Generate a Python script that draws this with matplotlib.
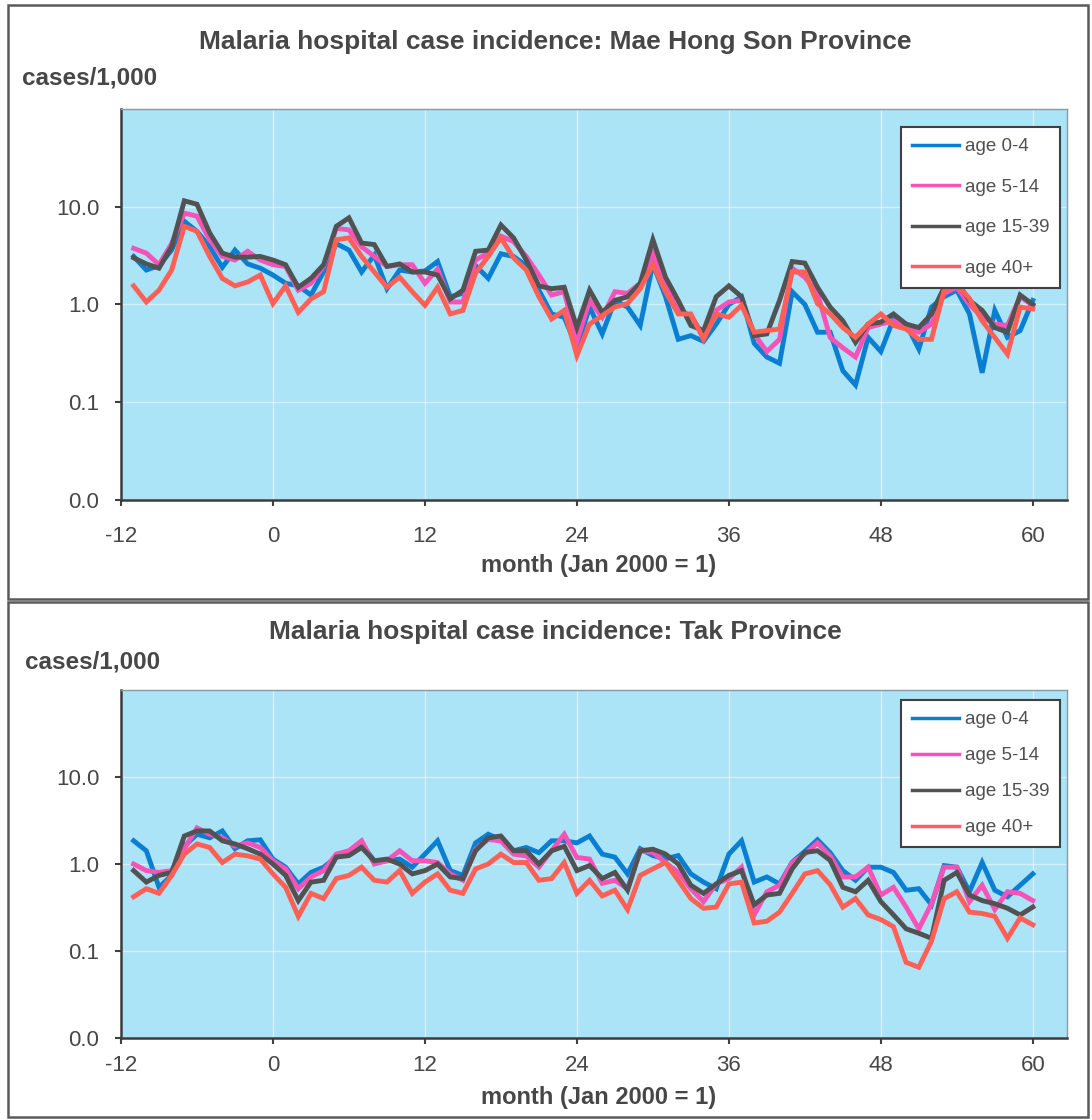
import matplotlib.pyplot as plt
from matplotlib.patches import Rectangle

plt.rcParams['font.family'] = ['Liberation Sans', 'DejaVu Sans']
plt.rcParams['axes.unicode_minus'] = False

# Months (Jan 2000 = 1)
months = list(range(-11, 61))

series_labels = ['age 0-4', 'age 5-14', 'age 15-39', 'age 40+']
series_colors = ['#0A7ED0', '#F752B6', '#525252', '#FF5F55']

# Mae Hong Son, cases/1,000
mhs_0_4 = [3.1, 2.25, 2.5, 3.6, 7.1, 5.6, 3.9, 2.4, 3.6, 2.6, 2.35, 2.0,
           1.65, 1.55, 1.25, 2.15, 4.2, 3.6, 2.15, 3.2, 1.45, 2.25, 2.15, 2.2,
           2.75, 1.2, 1.3, 2.5, 1.85, 3.3, 3.1, 2.5, 1.4, 0.8, 0.74, 0.36,
           0.94, 0.5, 1.1, 0.94, 0.61, 2.6, 1.2, 0.44, 0.48, 0.42, 0.63, 1.0,
           1.2, 0.4, 0.29, 0.25, 1.35, 1.0, 0.52, 0.52, 0.21, 0.15, 0.46, 0.33,
           0.71, 0.63, 0.35, 0.94, 1.2, 1.4, 0.8, 0.2, 0.87, 0.46, 0.54, 1.1]
mhs_5_14 = [3.75, 3.35, 2.55, 4.2, 8.6, 8.0, 4.6, 3.1, 2.85, 3.5, 2.85, 2.55,
            2.45, 1.4, 1.65, 2.45, 6.0, 5.8, 3.9, 3.1, 2.45, 2.55, 2.55, 1.65,
            2.3, 1.06, 1.06, 2.85, 3.35, 5.0, 4.4, 3.1, 2.0, 1.25, 1.35, 0.42,
            1.1, 0.74, 1.35, 1.3, 1.65, 3.35, 1.7, 0.87, 0.77, 0.48, 0.87, 1.06,
            1.1, 0.5, 0.33, 0.44, 2.35, 1.9, 1.3, 0.46, 0.36, 0.29, 0.58, 0.63,
            0.68, 0.58, 0.52, 0.63, 1.3, 1.5, 1.0, 0.74, 0.63, 0.61, 1.2, 0.98]
mhs_15_39 = [3.0, 2.6, 2.35, 3.9, 11.5, 10.6, 5.4, 3.35, 3.05, 3.05, 3.1, 2.85,
             2.55, 1.5, 1.85, 2.55, 6.3, 7.7, 4.25, 4.1, 2.45, 2.6, 2.15, 2.15,
             2.0, 1.14, 1.4, 3.5, 3.6, 6.5, 4.8, 2.85, 1.55, 1.45, 1.5, 0.58,
             1.4, 0.83, 1.1, 1.2, 1.65, 4.6, 1.9, 1.1, 0.61, 0.54, 1.2, 1.55,
             1.2, 0.48, 0.5, 1.1, 2.75, 2.65, 1.5, 0.94, 0.68, 0.41, 0.63, 0.66,
             0.8, 0.63, 0.58, 0.8, 1.5, 1.7, 1.1, 0.87, 0.58, 0.52, 1.25, 1.0]
mhs_40 = [1.55, 1.06, 1.4, 2.25, 6.3, 5.6, 3.1, 1.85, 1.55, 1.7, 2.0, 1.02,
          1.55, 0.83, 1.14, 1.35, 4.6, 4.8, 3.1, 2.15, 1.5, 1.9, 1.35, 0.98,
          1.5, 0.8, 0.87, 2.1, 3.1, 4.8, 3.0, 2.25, 1.2, 0.71, 0.87, 0.3,
          0.63, 0.77, 0.94, 1.02, 1.45, 2.55, 1.35, 0.8, 0.8, 0.44, 0.8, 0.74,
          0.98, 0.52, 0.54, 0.56, 2.15, 2.15, 1.02, 0.8, 0.58, 0.46, 0.63, 0.8,
          0.61, 0.56, 0.44, 0.44, 1.4, 1.6, 1.15, 0.68, 0.46, 0.31, 0.94, 0.9]

# Tak, cases/1,000
tak_0_4 = [1.85, 1.42, 0.54, 0.74, 1.6, 2.2, 2.0, 2.4, 1.5, 1.85, 1.9, 1.14,
           0.92, 0.59, 0.8, 0.92, 1.2, 1.3, 1.7, 1.09, 1.09, 1.14, 0.92, 1.3,
           1.85, 0.84, 0.74, 1.75, 2.2, 1.9, 1.42, 1.55, 1.35, 1.85, 1.85, 1.75,
           2.1, 1.3, 1.2, 0.77, 1.5, 1.25, 1.15, 1.25, 0.77, 0.62, 0.52, 1.3,
           1.85, 0.62, 0.71, 0.59, 1.05, 1.4, 1.9, 1.35, 0.84, 0.65, 0.92, 0.92,
           0.8, 0.5, 0.52, 0.34, 0.96, 0.92, 0.48, 1.04, 0.5, 0.42, 0.57, 0.77]
tak_5_14 = [1.0, 0.84, 0.8, 0.84, 1.5, 2.6, 2.2, 2.0, 1.6, 1.75, 1.55, 1.09,
            0.88, 0.52, 0.71, 0.84, 1.3, 1.42, 1.85, 1.0, 1.09, 1.42, 1.09, 1.09,
            1.04, 0.77, 0.65, 1.48, 1.92, 1.84, 1.3, 1.24, 0.92, 1.42, 2.2, 1.19,
            1.14, 0.6, 0.65, 0.52, 1.42, 1.36, 1.04, 0.8, 0.52, 0.37, 0.59, 0.68,
            0.92, 0.26, 0.48, 0.57, 1.04, 1.3, 1.75, 1.24, 0.71, 0.71, 0.92, 0.44,
            0.54, 0.32, 0.18, 0.35, 0.92, 0.92, 0.37, 0.57, 0.3, 0.48, 0.46, 0.38]
tak_15_39 = [0.84, 0.62, 0.74, 0.8, 2.1, 2.4, 2.4, 1.85, 1.7, 1.5, 1.3, 1.0,
             0.74, 0.38, 0.62, 0.65, 1.2, 1.25, 1.55, 1.09, 1.14, 1.0, 0.77, 0.84,
             1.0, 0.71, 0.68, 1.42, 2.0, 2.1, 1.42, 1.42, 1.0, 1.42, 1.6, 0.84,
             0.96, 0.68, 0.8, 0.5, 1.42, 1.48, 1.3, 1.0, 0.57, 0.46, 0.59, 0.74,
             0.84, 0.34, 0.44, 0.46, 0.88, 1.36, 1.42, 1.1, 0.54, 0.48, 0.65, 0.37,
             0.26, 0.18, 0.16, 0.14, 0.65, 0.8, 0.44, 0.38, 0.35, 0.31, 0.26, 0.32]
tak_40 = [0.42, 0.52, 0.46, 0.74, 1.3, 1.7, 1.55, 1.04, 1.3, 1.24, 1.14, 0.77,
          0.54, 0.25, 0.46, 0.4, 0.68, 0.74, 0.92, 0.65, 0.62, 0.84, 0.46, 0.62,
          0.77, 0.5, 0.46, 0.88, 1.0, 1.3, 1.04, 1.04, 0.65, 0.68, 1.04, 0.46,
          0.65, 0.43, 0.5, 0.3, 0.74, 0.88, 1.04, 0.65, 0.4, 0.31, 0.32, 0.59,
          0.62, 0.21, 0.22, 0.28, 0.46, 0.77, 0.84, 0.58, 0.32, 0.4, 0.26, 0.23,
          0.19, 0.074, 0.065, 0.13, 0.4, 0.48, 0.28, 0.27, 0.25, 0.14, 0.24, 0.2]

x_ticks = [-12, 0, 12, 24, 36, 48, 60]
y_ticks = [0.01, 0.1, 1, 10]
y_tick_labels = ['0.0', '0.1', '1.0', '10.0']

text_color = '#474747'
plot_bg = '#ABE3F7'


def draw_panel(ax, series, xpad, legend_y, legend_spacing):
    ax.set_facecolor(plot_bg)
    for values, label, color in zip(series, series_labels, series_colors):
        ax.plot(months, values, color=color, lw=3.5, label=label,
                solid_joinstyle='miter')
    ax.set_yscale('log')
    ax.set_ylim(0.01, 100)
    ax.set_xlim(-12, 62.7)
    ax.set_yticks(y_ticks)
    ax.set_yticklabels(y_tick_labels)
    ax.minorticks_off()
    ax.set_xticks(x_ticks)
    ax.grid(True, color='white', alpha=0.5, lw=1)
    ax.set_axisbelow(True)
    ax.tick_params(axis='y', direction='out', length=4.5, width=1.5,
                   color='#404040', pad=11, labelsize=16, labelcolor=text_color)
    ax.tick_params(axis='x', direction='out', length=4.5, width=1.5,
                   color='#404040', pad=xpad, labelsize=16, labelcolor=text_color)
    for side in ['left', 'bottom']:
        ax.spines[side].set_color('#3c3c3c')
        ax.spines[side].set_linewidth(1.8)
    for side in ['top', 'right']:
        ax.spines[side].set_color('#8a9aa0')
        ax.spines[side].set_linewidth(1)
    leg = ax.legend(loc='upper right', bbox_to_anchor=(0.993, legend_y),
                    borderaxespad=0, fontsize=13.5, handlelength=2.5,
                    handletextpad=0.3, labelspacing=legend_spacing, borderpad=0.6,
                    fancybox=False, framealpha=1, edgecolor='#404040')
    leg.get_frame().set_linewidth(1.5)
    for text in leg.get_texts():
        text.set_color('#505050')
    for line in leg.get_lines():
        line.set_linewidth(2.5)


fig = plt.figure(figsize=(10.92, 11.2), dpi=100)

# Outer frames round each chart
fig.add_artist(Rectangle((0.0073, 0.4652), 0.989, 0.5304, transform=fig.transFigure,
                         fill=False, edgecolor='#5a5a5a', lw=1.8))
fig.add_artist(Rectangle((0.0073, 0.0027), 0.989, 0.4598, transform=fig.transFigure,
                         fill=False, edgecolor='#5a5a5a', lw=1.8))

# Mae Hong Son
ax1 = fig.add_axes([0.1108, 0.5536, 0.8663, 0.3491])
draw_panel(ax1, [mhs_0_4, mhs_5_14, mhs_15_39, mhs_40], 14, 0.954, 1.25)
fig.text(0.5085, 0.9625, 'Malaria hospital case incidence: Mae Hong Son Province',
         ha='center', va='center', fontsize=19, fontweight='bold', color=text_color)
fig.text(0.020, 0.930, 'cases/1,000', ha='left', va='center', fontsize=17.5,
         fontweight='bold', color=text_color)
fig.text(0.5485, 0.4955, 'month (Jan 2000 = 1)', ha='center', va='center',
         fontsize=17, fontweight='bold', color=text_color)

# Tak
ax2 = fig.add_axes([0.1108, 0.0732, 0.8663, 0.3107])
draw_panel(ax2, [tak_0_4, tak_5_14, tak_15_39, tak_40], 8, 0.971, 1.0)
fig.text(0.5085, 0.4357, 'Malaria hospital case incidence: Tak Province',
         ha='center', va='center', fontsize=19, fontweight='bold', color=text_color)
fig.text(0.023, 0.4089, 'cases/1,000', ha='left', va='center', fontsize=17.5,
         fontweight='bold', color=text_color)
fig.text(0.5485, 0.0205, 'month (Jan 2000 = 1)', ha='center', va='center',
         fontsize=17, fontweight='bold', color=text_color)

plt.savefig('out.png', dpi=100)
